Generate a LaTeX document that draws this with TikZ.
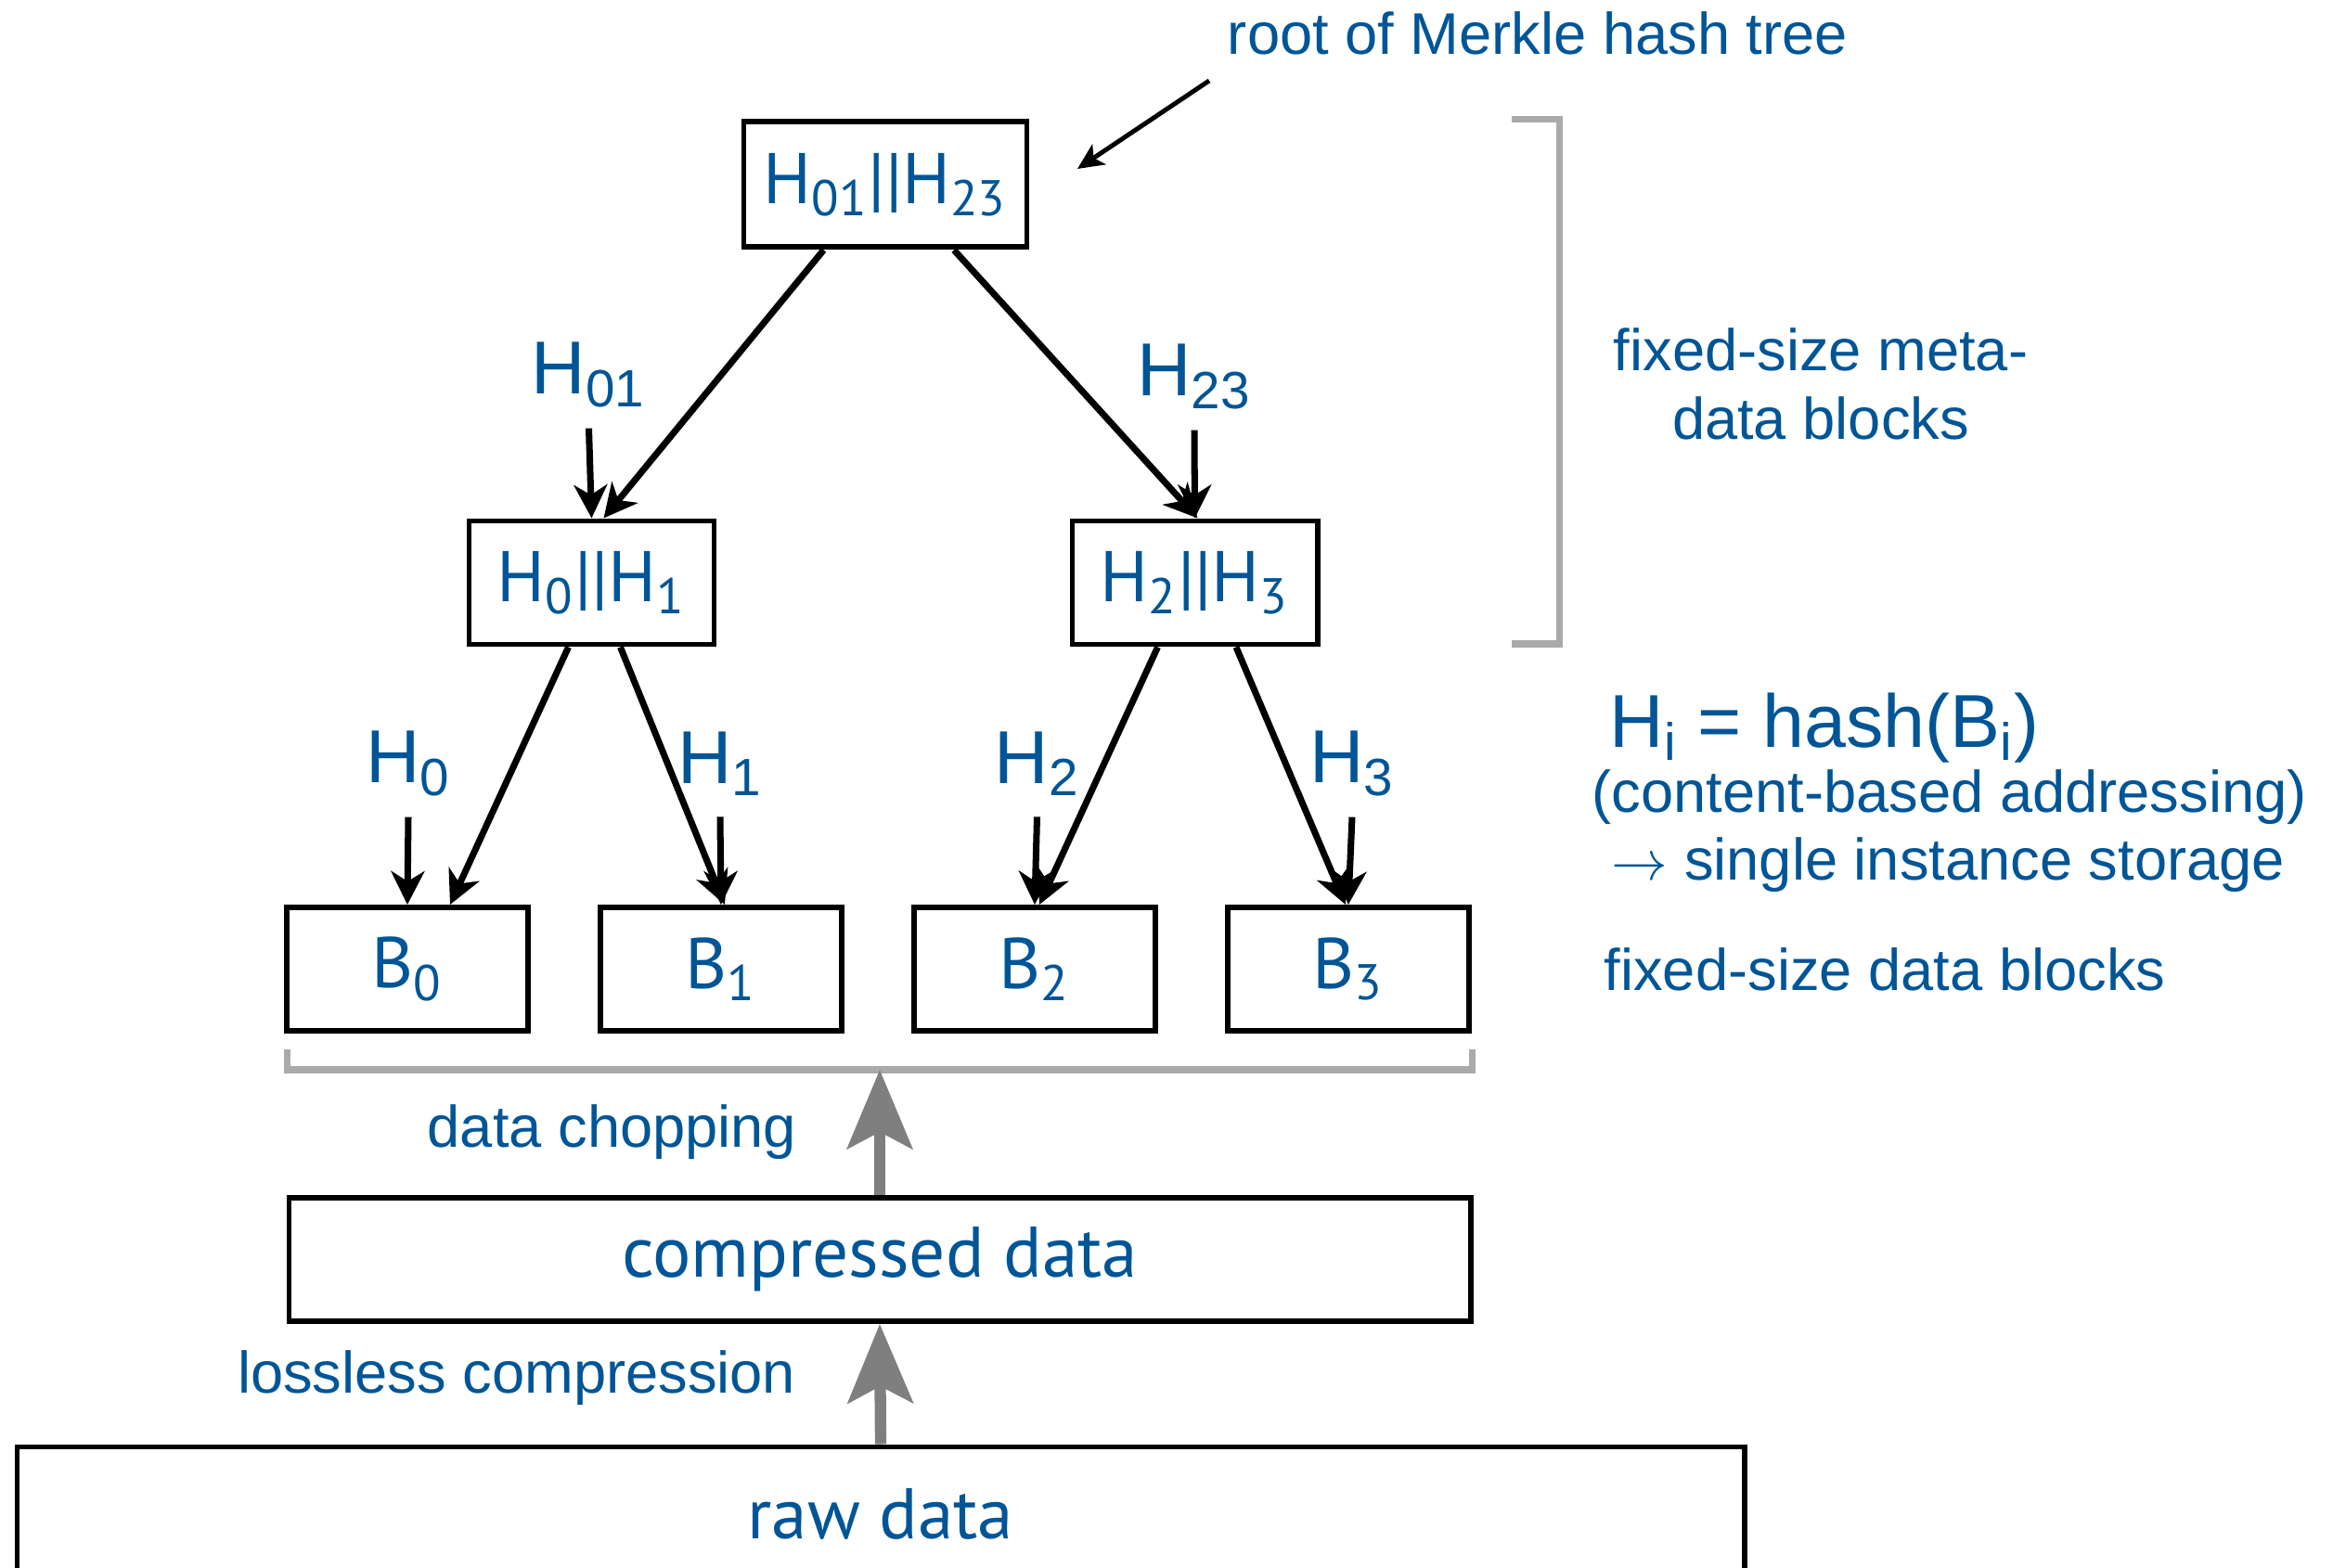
\documentclass[tikz,border=0pt]{standalone}
\usepackage{fontspec}
\setmainfont{Liberation Sans}
\newfontfamily\boxfont{PT Sans}
\usetikzlibrary{arrows.meta,positioning}
\definecolor{mblue}{HTML}{005596}
\definecolor{bgray}{HTML}{AAAAAA}
\definecolor{agray}{HTML}{7F7F7F}
\tikzset{
  hbox/.style={rectangle, draw=black, line width=1.7pt, text=mblue, inner sep=0pt,
               font=\boxfont\fontsize{22}{26}\selectfont, minimum width=2.6cm, minimum height=1.33cm},
  hlab/.style={text=mblue, font=\fontsize{23}{27}\selectfont, inner sep=0pt, outer sep=2.3mm},
  note/.style={text=mblue, font=\fontsize{18}{21}\selectfont, align=center, inner sep=0pt},
  arr/.style={-{Stealth[length=3.6mm, width=3.6mm, inset=1.1mm]}, line width=2pt},
  thinarr/.style={-{Stealth[length=2.8mm, width=2.6mm, inset=0.7mm]}, line width=1.4pt},
  bigarr/.style={-{Stealth[length=8.5mm, width=7mm, inset=1.8mm]}, line width=3.5pt, draw=agray},
  bracket/.style={draw=bgray, line width=2pt},
}

\begin{document}
\begin{tikzpicture}
  \useasboundingbox (0,0) rectangle (25.28,-16.90);

  % hash tree
  \node[hbox, minimum width=3.05cm, minimum height=1.35cm] (root) at (9.54,-1.99) {H\textsubscript{01}||H\textsubscript{23}};
  \node[hbox, minimum width=2.64cm] (lmid) at (6.375,-6.28) {H\textsubscript{0}||H\textsubscript{1}};
  \node[hbox, minimum width=2.64cm] (rmid) at (12.875,-6.28) {H\textsubscript{2}||H\textsubscript{3}};
  \node[hbox] (b0) at (4.39,-10.445) {B\textsubscript{0}};
  \node[hbox, right=7.2mm of b0] (b1) {B\textsubscript{1}};
  \node[hbox, right=7.2mm of b1] (b2) {B\textsubscript{2}};
  \node[hbox, right=7.2mm of b2] (b3) {B\textsubscript{3}};

  \node[hlab] (h01) at (6.345,-4.04) {H\textsubscript{01}};
  \node[hlab] (h23) at (12.87,-4.06) {H\textsubscript{23}};
  \node[hlab] (h0) at (4.40,-8.23) {H\textsubscript{0}};
  \node[hlab] (h1) at (7.76,-8.23) {H\textsubscript{1}};
  \node[hlab] (h2) at (11.175,-8.23) {H\textsubscript{2}};
  \node[hlab] (h3) at (14.57,-8.23) {H\textsubscript{3}};

  \draw[arr] ([xshift=-6.65mm]root.south) -- ([xshift=1.3mm]lmid.north);
  \draw[arr] ([xshift=7.4mm]root.south) -- ([xshift=0.3mm]rmid.north);
  \draw[arr] ([xshift=-2.5mm]lmid.south) -- ([xshift=4.6mm]b0.north);
  \draw[arr] ([xshift=3.1mm]lmid.south) -- ([xshift=0.4mm]b1.north);
  \draw[arr] ([xshift=-4.0mm]rmid.south) -- ([xshift=0.5mm]b2.north);
  \draw[arr] ([xshift=4.45mm]rmid.south) -- ([xshift=-0.3mm]b3.north);
  \draw[arr] (h01.south) -- (lmid.north);
  \draw[arr] (h23.south) -- (rmid.north);
  \draw[arr] (h0.south) -- (b0.north);
  \draw[arr] (h1.south) -- (b1.north);
  \draw[arr] (h2.south) -- (b2.north);
  \draw[arr] (h3.south) -- (b3.north);

  \node[note] (merkle) at (16.57,-0.355) {root of Merkle hash tree};
  \coordinate (mtail) at (13.03,-0.87);
  \coordinate (mtip) at (11.61,-1.82);
  \draw[thinarr] (mtail) -- (mtip);

  \coordinate (mtop) at (16.80,-1.29);
  \coordinate (mbot) at (16.80,-6.94);
  \draw[bracket] ([xshift=-5.1mm]mtop) -- (mtop) -- (mbot) -- ([xshift=-5.1mm]mbot);
  \node[note] (meta) at (19.62,-4.14) {fixed-size meta-\\data blocks};

  \node[note, anchor=west, font=\fontsize{23}{27}\selectfont] (hdef) at (17.34,-7.85) {H\textsubscript{i} = hash(B\textsubscript{i})};
  \node[note, anchor=west] (addr) at (17.15,-8.59) {(content-based addressing)};
  \node[note, anchor=west] (sis) at (17.36,-9.32) {$\rightarrow$ single instance storage};
  \node[note, anchor=west] (fdb) at (17.28,-10.45) {fixed-size data blocks};

  % data pipeline
  \node[hbox, minimum width=12.73cm] (comp) at (9.48,-13.575) {compressed data};
  \node[hbox, minimum width=18.61cm, minimum height=1.45cm] (raw) at (9.49,-16.32) {raw data};
  \coordinate (brl) at (3.095,-11.53);
  \coordinate (brr) at (15.86,-11.53);
  \coordinate (brm) at (9.48,-11.53);
  \draw[bracket] ([yshift=2.2mm]brl) -- (brl) -- (brr) -- ([yshift=2.2mm]brr);
  \draw[bigarr] (comp.north) -- (brm);
  \draw[bigarr] (raw.north) -- (comp.south);
  \node[note, anchor=east] (chop) at (8.59,-12.20) {data chopping};
  \node[note, anchor=east] (lossless) at (8.58,-14.85) {lossless compression};
\end{tikzpicture}
\end{document}
